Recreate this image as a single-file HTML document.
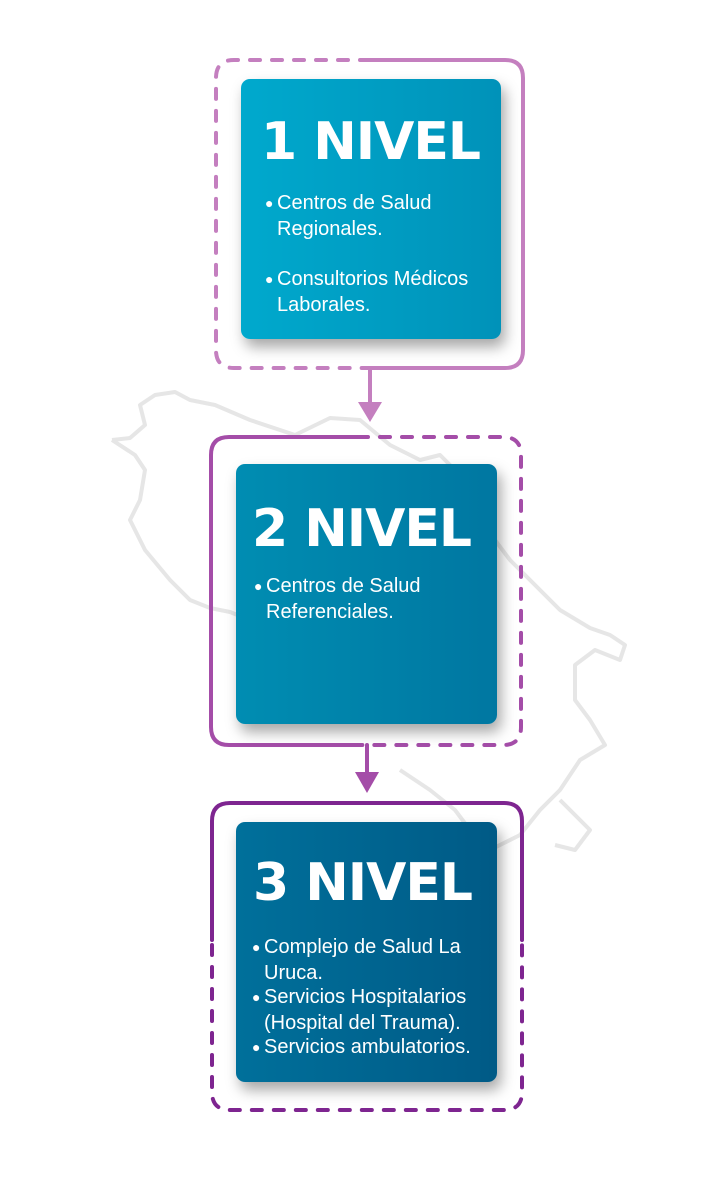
<!DOCTYPE html>
<html><head><meta charset="utf-8"><style>
body{margin:0;background:#fff;width:720px;height:1188px;position:relative;overflow:hidden;font-family:"Liberation Sans",sans-serif}
svg{position:absolute;left:0;top:0}
.card{position:absolute;border-radius:9px;color:#fff;box-shadow:4px 8px 14px rgba(0,0,0,.35)}
.t{position:absolute;font-family:"DejaVu Sans","Liberation Sans",sans-serif;font-weight:bold;font-size:52px;letter-spacing:-1px;white-space:nowrap}
.p{position:absolute;font-size:20px;line-height:26px;white-space:nowrap}
.p span{position:absolute;left:-12px;font-size:14px}
</style></head><body>
<svg width="720" height="1188">
<g fill="none" stroke="#e6e6e6" stroke-width="4" stroke-linejoin="round">
<path d="M112,440 L130,438 L145,425 L140,405 L155,395 L175,392 L190,400 L215,405 L250,420 L295,435 L330,418 L360,420 L390,445 L420,460 L440,455 L455,470 L480,520 L510,560 L540,590 L560,610 L590,628 L610,635 L625,645 L620,660 L595,650 L575,665 L575,700 L590,720 L605,745 L580,760 L560,790 L540,810 L520,835 L490,850 L470,830 L455,810 L430,790 L400,770"/>
<path d="M112,440 L135,455 L145,470 L140,500 L130,520 L145,550 L170,580 L190,600 L210,608 L230,612 L250,620"/>
<path d="M560,800 L590,830 L575,850 L555,845"/>
</g>
<g fill="none" stroke-width="4" stroke-linecap="round">
<path d="M370,60 H505 Q523,60 523,78 V350 Q523,368 505,368 H370" stroke="#c47fbf"/>
<path d="M370,60 H234 Q216,60 216,78 V350 Q216,368 234,368 H370" stroke="#c47fbf" stroke-dasharray="10,12"/>
<path d="M370,368 V405" stroke="#c47fbf"/>
<path d="M358,437 H229 Q211,437 211,455 V727 Q211,745 229,745 H358" stroke="#a44da8"/>
<path d="M358,437 H503 Q521,437 521,455 V727 Q521,745 503,745 H358" stroke="#a44da8" stroke-dasharray="10,12"/>
<path d="M367,745 V775" stroke="#a44da8"/>
<path d="M212,940 V821 Q212,803 230,803 H504 Q522,803 522,821 V940" stroke="#7e2590"/>
<path d="M212,945 V1092 Q212,1110 230,1110 H504 Q522,1110 522,1092 V945" stroke="#7e2590" stroke-dasharray="10,12"/>
</g>
<path d="M358,402 H382 L370,422 Z" fill="#c47fbf"/>
<path d="M355,772 H379 L367,793 Z" fill="#a44da8"/>
</svg>
<div class="card" style="left:241px;top:79px;width:260px;height:260px;background:linear-gradient(90deg,#00a9cd,#0092b9)">
<div class="t" style="left:20px;top:33px">1 NIVEL</div>
<div class="p" style="left:36px;top:111px"><span>●</span>Centros de Salud<br>Regionales.</div>
<div class="p" style="left:36px;top:187px"><span>●</span>Consultorios Médicos<br>Laborales.</div>
</div>
<div class="card" style="left:236px;top:464px;width:261px;height:260px;background:linear-gradient(90deg,#008db2,#0077a1)">
<div class="t" style="left:16px;top:35px">2 NIVEL</div>
<div class="p" style="left:30px;top:109px"><span>●</span>Centros de Salud<br>Referenciales.</div>
</div>
<div class="card" style="left:236px;top:822px;width:261px;height:260px;background:linear-gradient(90deg,#00709b,#005a86)">
<div class="t" style="left:17px;top:31px">3 NIVEL</div>
<div class="p" style="left:28px;top:112px"><span>●</span>Complejo de Salud La<br>Uruca.</div>
<div class="p" style="left:28px;top:162px"><span>●</span>Servicios Hospitalarios<br>(Hospital del Trauma).</div>
<div class="p" style="left:28px;top:212px"><span>●</span>Servicios ambulatorios.</div>
</div>
</body></html>
